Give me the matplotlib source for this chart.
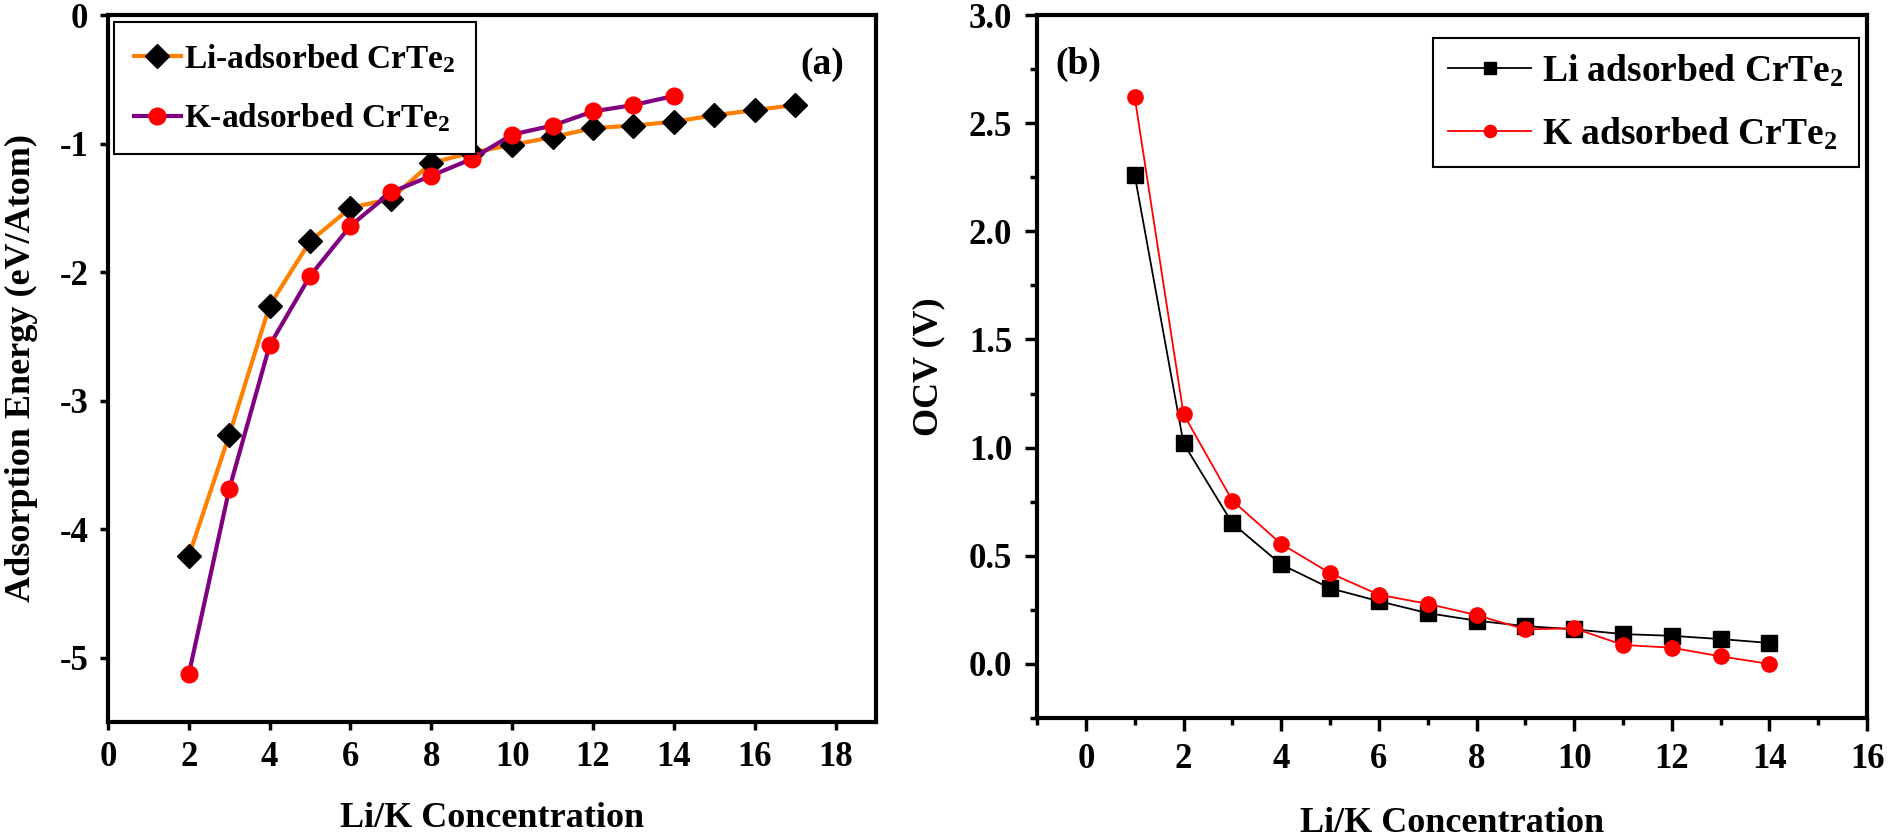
import matplotlib
matplotlib.use('Agg')
import matplotlib.pyplot as plt
from matplotlib.ticker import MultipleLocator

plt.rcParams['font.family'] = ['Liberation Serif', 'DejaVu Serif']
plt.rcParams['font.weight'] = 'bold'
plt.rcParams['axes.unicode_minus'] = False
plt.rcParams['mathtext.fontset'] = 'custom'
plt.rcParams['mathtext.rm'] = 'Liberation Serif:bold'
plt.rcParams['mathtext.bf'] = 'Liberation Serif:bold'
plt.rcParams['mathtext.it'] = 'Liberation Serif:bold'

# panel (a): adsorption energy
li_conc = [2, 3, 4, 5, 6, 7, 8, 9, 10, 11, 12, 13, 14, 15, 16, 17]
li_energy = [-4.21, -3.27, -2.26, -1.76, -1.50, -1.43, -1.15, -1.07, -1.01, -0.95,
             -0.88, -0.86, -0.83, -0.78, -0.74, -0.70]
k_conc = [2, 3, 4, 5, 6, 7, 8, 9, 10, 11, 12, 13, 14]
k_energy = [-5.13, -3.69, -2.57, -2.03, -1.64, -1.38, -1.25, -1.12, -0.93, -0.86,
            -0.75, -0.70, -0.63]

# panel (b): open circuit voltage
ocv_conc = [1, 2, 3, 4, 5, 6, 7, 8, 9, 10, 11, 12, 13, 14]
li_ocv = [2.26, 1.02, 0.65, 0.46, 0.35, 0.29, 0.235, 0.20, 0.175, 0.16, 0.138, 0.13, 0.115, 0.097]
k_ocv = [2.62, 1.155, 0.755, 0.555, 0.42, 0.32, 0.278, 0.226, 0.16, 0.165, 0.088, 0.075, 0.035, 0.0]

fig = plt.figure(figsize=(18.9, 8.39), dpi=100)
ax1 = fig.add_axes([0.0571, 0.1395, 0.4064, 0.8426])
ax2 = fig.add_axes([0.5487, 0.1442, 0.4392, 0.8379])

# (a)
ax1.plot(li_conc, li_energy, color='#FF8000', lw=3, marker='D', ms=12,
         mfc='black', mec='black', label=r'Li-adsorbed CrTe$_\mathbf{2}$')
ax1.plot(k_conc, k_energy, color='#800080', lw=3, marker='o', ms=12,
         mfc='red', mec='red', label=r'K-adsorbed CrTe$_\mathbf{2}$')
ax1.set_xlim(0, 19)
ax1.set_ylim(-5.5, 0)
ax1.xaxis.set_major_locator(MultipleLocator(2))
ax1.yaxis.set_major_locator(MultipleLocator(1))
ax1.tick_params(direction='out', length=6, width=2.5, labelsize=25, pad=8)
for s in ax1.spines.values():
    s.set_linewidth(3)
ax1.set_xlabel('Li/K Concentration', fontsize=26, fontweight='bold', va='center')
ax1.xaxis.set_label_coords(0.5, -0.137)
ax1.set_ylabel('Adsorption Energy (eV/Atom)', fontsize=26, fontweight='bold', va='center')
ax1.yaxis.set_label_coords(-0.112, 0.5)
ax1.text(0.93, 0.93, '(a)', transform=ax1.transAxes, fontsize=27,
         fontweight='bold', ha='center', va='center')
leg1 = ax1.legend(loc='upper left', bbox_to_anchor=(0.008, 0.99), borderaxespad=0,
                  fontsize=24, handlelength=1.4, handletextpad=0.1, labelspacing=0.8,
                  numpoints=1, fancybox=False, framealpha=1, edgecolor='black',
                  borderpad=0.6)
leg1.get_frame().set_linewidth(1.5)

# (b)
ax2.plot(ocv_conc, li_ocv, color='black', lw=1.3, marker='s', ms=11,
         mfc='black', mec='black', label=r'Li adsorbed CrTe$_\mathbf{2}$')
ax2.plot(ocv_conc, k_ocv, color='red', lw=1.3, marker='o', ms=11,
         mfc='red', mec='red', label=r'K adsorbed CrTe$_\mathbf{2}$')
ax2.set_xlim(-1, 16)
ax2.set_ylim(-0.25, 3.0)
ax2.xaxis.set_major_locator(MultipleLocator(2))
ax2.xaxis.set_minor_locator(MultipleLocator(1))
ax2.yaxis.set_major_locator(MultipleLocator(0.5))
ax2.yaxis.set_minor_locator(MultipleLocator(0.25))
ax2.yaxis.set_major_formatter('{x:.1f}')
ax2.tick_params(which='major', direction='out', length=9, width=2.5, labelsize=25, pad=9)
ax2.tick_params(which='minor', direction='out', length=5, width=2.5)
for s in ax2.spines.values():
    s.set_linewidth(3)
ax2.set_xlabel('Li/K Concentration', fontsize=26, fontweight='bold', va='center')
ax2.xaxis.set_label_coords(0.5, -0.15)
ax2.set_ylabel('OCV (V)', fontsize=26, fontweight='bold', va='center')
ax2.yaxis.set_label_coords(-0.13, 0.5)
ax2.text(0.05, 0.93, '(b)', transform=ax2.transAxes, fontsize=27,
         fontweight='bold', ha='center', va='center')
leg2 = ax2.legend(loc='upper right', bbox_to_anchor=(0.99, 0.967), borderaxespad=0,
                  fontsize=27, handlelength=2.2, handletextpad=0.3, labelspacing=0.7,
                  numpoints=1, markerscale=0.8, fancybox=False, framealpha=1,
                  edgecolor='black', borderpad=0.4)
leg2.get_frame().set_linewidth(1.5)

fig.savefig('out.png', dpi=100)
